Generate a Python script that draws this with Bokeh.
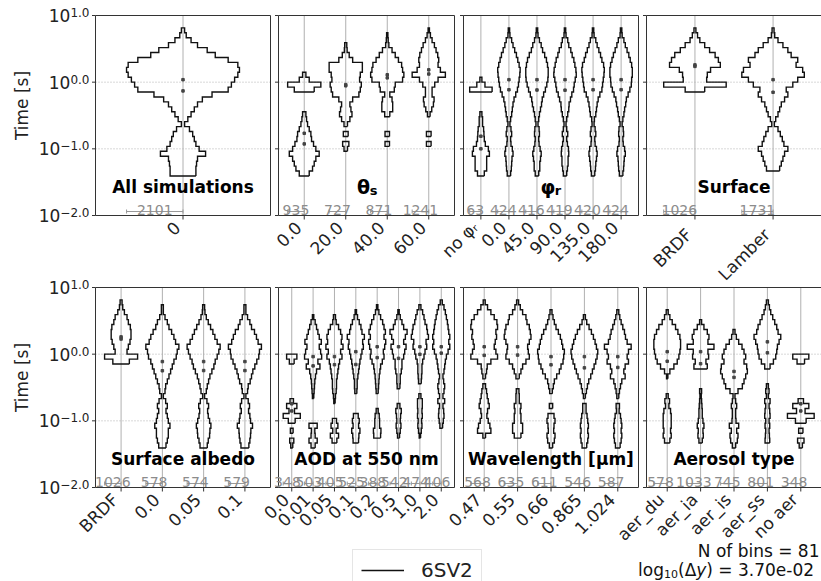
import numpy as np
from bokeh.plotting import figure
from bokeh.models import Range1d, Legend, LegendItem
from bokeh.embed import file_html
from bokeh.resources import INLINE
from bokeh.core.properties import value

# ------------------------------------------------------------------ data
N_BINS = 81
LOG_DY = 3.0 / N_BINS          # 3.70e-02 in log10(seconds)
STEP_BINS = 2                  # drawn step = 2 histogram bins
LOG_MIN = -2.0
series_name = "6SV2"

# each profile: (index of first step above 10^-2, relative counts per step)
all_labels = ["0"]
all_counts = [2101]
all_profiles = [
    (8, [40, 40, 42, 45, 70, 50, 40, 35, 30, 20, 5, 15, 25, 35, 45, 60, 90, 140,
         150, 160, 170, 175, 170, 140, 100, 75, 45, 25, 10, 5]),
]

theta_labels = ["0.0", "20.0", "40.0", "60.0"]
theta_counts = [935, 727, 871, 1241]
theta_profiles = [
    (8, [15, 25, 30, 35, 45, 35, 28, 22, 20, 15, 10, 7, 5, 0, 0, 0, 0, 30, 50, 15, 5]),
    (13, [5, 9, 0, 7, 0, 5, 12, 18, 15, 12, 20, 38, 42, 45, 40, 42, 48, 48, 20, 10, 4, 3]),
    (14, [7, 0, 7, 0, 0, 0, 8, 17, 17, 15, 8, 22, 25, 48, 52, 48, 45, 35, 25, 15, 5, 3, 2]),
    (14, [7, 0, 7, 0, 0, 0, 4, 9, 14, 16, 10, 10, 18, 28, 50, 35, 28, 30, 27, 22, 17, 10, 5, 2]),
]

phi_labels = ["no φᵣ", "0.0", "45.0", "90.0", "135.0", "180.0"]
phi_counts = [63, 424, 416, 419, 420, 424]
phi_profiles = [
    (8, [10, 17, 17, 17, 25, 22, 13, 10, 9, 8, 5, 5, 3, 0, 0, 0, 0, 33, 12, 3]),
    (8, [5, 7, 8, 9, 12, 10, 6, 5, 8, 6, 3, 5, 8, 10, 12, 15, 20, 25, 28, 30, 32, 33, 30, 26, 22, 17, 12, 8, 3, 2]),
    (8, [5, 8, 8, 10, 12, 9, 6, 5, 7, 6, 3, 5, 7, 10, 13, 15, 19, 24, 28, 31, 32, 32, 30, 27, 22, 16, 12, 7, 3, 2]),
    (8, [5, 7, 9, 9, 11, 10, 7, 5, 8, 5, 3, 5, 8, 11, 12, 16, 20, 25, 27, 30, 33, 32, 29, 26, 21, 17, 11, 8, 3, 2]),
    (8, [5, 7, 8, 10, 12, 10, 6, 5, 8, 6, 3, 4, 8, 10, 12, 15, 20, 26, 28, 30, 32, 33, 31, 26, 22, 17, 12, 8, 3, 2]),
    (8, [5, 7, 8, 9, 12, 10, 6, 5, 7, 6, 3, 5, 8, 10, 13, 15, 20, 25, 29, 30, 32, 32, 30, 26, 22, 17, 12, 8, 3, 2]),
]

surf_labels = ["BRDF", "Lamber"]
surf_counts = [1026, 1731]
surf_profiles = [
    (25, [30, 96, 36, 38, 48, 78, 72, 62, 45, 30, 15, 8, 3]),
    (9, [20, 25, 30, 35, 45, 33, 28, 22, 15, 4, 8, 15, 20, 25, 35, 45, 40, 60, 75, 95,
         90, 70, 75, 55, 45, 30, 15, 5, 3]),
]

alb_labels = ["BRDF", "0.0", "0.05", "0.1"]
alb_counts = [1026, 578, 574, 579]
alb_profiles = [
    (25, [25, 50, 18, 22, 27, 30, 30, 28, 22, 18, 10, 5, 3]),
    (8, [11, 15, 18, 18, 23, 18, 15, 11, 15, 10, 3, 8, 10, 15, 20, 25, 30, 35, 42, 45, 50, 40, 35, 28, 20, 15, 8, 3, 3]),
    (8, [11, 14, 18, 19, 22, 18, 14, 12, 15, 10, 3, 8, 11, 15, 19, 25, 31, 35, 41, 46, 50, 41, 34, 28, 21, 14, 8, 4, 3]),
    (8, [12, 15, 17, 18, 23, 17, 15, 11, 14, 10, 3, 8, 10, 16, 20, 24, 30, 36, 42, 44, 50, 40, 35, 29, 20, 15, 8, 3, 3]),
]

no_aerosol_profile = (8, [3, 6, 0, 4, 0, 10, 25, 8, 15, 5, 0, 0, 0, 0, 0, 0, 0, 7, 15])

aod_labels = ["0.0", "0.01", "0.05", "0.1", "0.2", "0.5", "1.0", "2.0"]
aod_counts = [348, 503, 405, 525, 388, 542, 474, 406]
aod_profiles = [
    no_aerosol_profile,
    (8, [6, 12, 6, 5, 12, 0, 0, 0, 0, 0, 2, 3, 4, 5, 7, 10, 20, 14, 25, 22, 18, 24, 18, 14, 10, 6, 2]),
    (9, [7, 12, 5, 10, 6, 0, 0, 0, 2, 3, 5, 6, 6, 8, 10, 12, 15, 22, 18, 25, 20, 22, 18, 12, 5, 3]),
    (9, [8, 9, 12, 8, 10, 7, 0, 0, 0, 0, 3, 4, 4, 6, 8, 10, 12, 15, 18, 22, 20, 25, 18, 15, 10, 5, 2]),
    (10, [10, 11, 7, 7, 6, 3, 0, 0, 0, 3, 4, 5, 6, 8, 10, 15, 20, 18, 22, 25, 20, 24, 20, 16, 10, 5, 2]),
    (10, [3, 5, 7, 5, 6, 8, 4, 0, 0, 0, 4, 5, 5, 8, 10, 10, 15, 18, 22, 15, 20, 25, 15, 10, 5, 2]),
    (10, [2, 4, 6, 5, 7, 6, 7, 7, 3, 0, 0, 4, 5, 6, 6, 8, 12, 15, 20, 18, 25, 22, 20, 15, 12, 8, 3]),
    (12, [4, 6, 8, 7, 5, 10, 5, 8, 10, 7, 5, 8, 10, 12, 15, 20, 25, 22, 25, 22, 20, 18, 15, 12, 8, 3]),
]

wl_labels = ["0.47", "0.55", "0.66", "0.865", "1.024"]
wl_counts = [568, 635, 611, 546, 587]
wl_profiles = [
    (10, [4, 20, 17, 12, 8, 10, 15, 12, 9, 7, 4, 0, 4, 7, 9, 20, 40, 35, 30, 33, 37, 35, 40, 38, 30, 20, 10, 3]),
    (10, [10, 15, 15, 10, 10, 8, 10, 5, 5, 4, 0, 0, 5, 10, 15, 25, 35, 32, 30, 35, 40, 38, 35, 28, 25, 15, 8, 3]),
    (8, [5, 10, 12, 8, 9, 12, 9, 0, 5, 0, 0, 4, 7, 10, 17, 25, 30, 36, 38, 40, 35, 32, 28, 22, 15, 10, 6, 3]),
    (8, [7, 10, 12, 10, 12, 10, 8, 5, 5, 0, 3, 6, 9, 13, 19, 24, 29, 34, 38, 40, 36, 32, 27, 21, 14, 7, 3]),
    (8, [7, 10, 12, 10, 12, 10, 8, 4, 5, 0, 3, 5, 8, 12, 22, 18, 22, 32, 28, 32, 40, 28, 23, 20, 15, 10, 6, 3]),
]

aer_labels = ["aer_du", "aer_ia", "aer_is", "aer_ss", "no aer"]
aer_counts = [578, 1033, 745, 801, 348]
aer_profiles = [
    (9, [8, 12, 10, 12, 12, 12, 10, 5, 7, 3, 0, 0, 0, 2, 8, 20, 30, 35, 38, 40, 40, 38, 32, 25, 15, 8, 3]),
    (9, [5, 8, 7, 10, 7, 5, 5, 4, 3, 2, 3, 0, 0, 0, 0, 20, 16, 24, 22, 40, 22, 25, 20, 10, 3]),
    (8, [5, 10, 12, 8, 14, 6, 5, 5, 8, 5, 3, 12, 25, 30, 35, 40, 38, 30, 35, 30, 24, 14, 7, 3]),
    (9, [7, 6, 5, 7, 5, 8, 7, 5, 8, 3, 5, 3, 0, 0, 0, 8, 18, 25, 28, 30, 35, 40, 32, 28, 22, 16, 10, 6, 3]),
    no_aerosol_profile,
]

# ------------------------------------------------------------------ layout / style
FONT = "DejaVu Sans"
INK = "#111111"
SPINE = "#333333"
GRID = "#b0b0b0"
COUNT_C = "#8c8c8c"
TXT = "#222222"
W, H = 821, 581
PXD = 200.0 / 3.0               # pixels per decade
ROW_TOP = [15, 287]
COL_LEFT = [95, 278, 463, 646]
COL_W = [175, 176, 175, 175]
X0 = -0.62
HALF = 0.4
STEP = LOG_DY * STEP_BINS
DEJAVU_W = {"0": .636, "1": .636, "2": .636, ".": .318, "−": .838}

p = figure(width=W, height=H, x_range=Range1d(0, W), y_range=Range1d(H, 0),
           x_axis_location=None, y_axis_location=None, toolbar_location=None,
           output_backend="svg", min_border=0)
p.grid.visible = False
p.outline_line_color = None
p.background_fill_color = "white"
p.border_fill_color = "white"

for r, T in enumerate(ROW_TOP):
    p.extra_y_ranges["y%d" % r] = Range1d(1 - (H - T) / PXD, 1 + T / PXD)


def violin_lines(center, k0, vals):
    vmax = float(max(vals))
    xs, ys, run = [], [], []
    for i, v in enumerate(list(vals) + [0]):
        if v > 0:
            run.append((k0 + i, HALF * v / vmax))
        elif run:
            px, py = [], []
            for k, w in run:
                px += [center + w, center + w]
                py += [LOG_MIN + STEP * k, LOG_MIN + STEP * (k + 1)]
            for k, w in reversed(run):
                px += [center - w, center - w]
                py += [LOG_MIN + STEP * (k + 1), LOG_MIN + STEP * k]
            px.append(px[0])
            py.append(py[0])
            xs.append(px)
            ys.append(py)
            run = []
    return xs, ys


def stats(k0, vals):
    v = np.array(vals, float)
    c = LOG_MIN + STEP * (k0 + np.arange(len(v)) + 0.5)
    mean = (v * c).sum() / v.sum()
    cum = np.cumsum(v) / v.sum()
    med = c[np.searchsorted(cum, 0.5)]
    return mean, med


violin_renderers = []


def add_panel(r, c, labels, counts, profiles, title_parts, label_pad):
    n = len(labels)
    L, w = COL_LEFT[c], COL_W[c]
    ppu = w / (n + 0.24)
    xname = "x%d%d" % (r, c)
    start = X0 - L / ppu
    p.extra_x_ranges[xname] = Range1d(start, start + W / ppu)
    kw = dict(x_range_name=xname, y_range_name="y%d" % r)
    x1 = X0 + w / ppu
    x1_spine = x1 + (4 / ppu if c == 3 else 0)   # last column runs off the page
    ticks = list(range(n))

    # grid
    p.segment(x0=ticks, x1=ticks, y0=[-2] * n, y1=[1] * n,
              line_color=GRID, line_width=1, **kw)
    p.segment(x0=[X0, X0], x1=[x1, x1], y0=[-1, 0], y1=[-1, 0],
              line_color=GRID, line_width=1, line_dash="1 2", **kw)
    # spines and ticks
    p.quad(left=[X0], right=[x1_spine], bottom=[-2], top=[1], fill_color=None,
           line_color=SPINE, line_width=1, **kw)
    p.segment(x0=ticks, x1=ticks, y0=[-2] * n, y1=[-2 - 4 / PXD] * n,
              line_color=SPINE, line_width=1, **kw)
    dec = [-2, -1, 0, 1]
    p.segment(x0=[X0] * 4, x1=[X0 - 3.5 / ppu] * 4, y0=dec, y1=dec,
              line_color=SPINE, line_width=1, **kw)

    # violins
    vx, vy, mx, my = [], [], [], []
    for i, (k0, vals) in enumerate(profiles):
        xs, ys = violin_lines(i, k0, vals)
        vx += xs
        vy += ys
        m1, m2 = stats(k0, vals)
        mx += [i, i]
        my += [m1, m2]
    vr = p.multi_line(vx, vy, line_color=INK, line_width=1.4, line_join="miter", **kw)
    violin_renderers.append(vr)
    p.scatter(mx, my, marker="square", size=2.5, color="#444444", **kw)

    # counts sitting on small scale bars
    yb = -1.94
    p.segment(x0=[i - HALF for i in ticks], y0=[yb] * n, x1=ticks, y1=[yb] * n,
              line_color="#999999", line_width=1, **kw)
    capx = [i - HALF for i in ticks] + ticks
    p.segment(x0=capx, x1=capx, y0=[yb - 0.03] * (2 * n), y1=[yb + 0.03] * (2 * n),
              line_color="#999999", line_width=1, **kw)
    p.text(x=[i - HALF / 2 for i in ticks], y=[-1.922] * n,
           text=[str(v) for v in counts], text_align="center",
           text_baseline="alphabetic", text_font_size="14px",
           text_color=COUNT_C, text_font=value(FONT), **kw)

    # rotated category labels
    p.text(x=ticks, y=[-2] * n, text=labels, angle=np.pi / 4,
           text_align="right", text_baseline="middle", x_offset=-6,
           y_offset=label_pad + 4, text_font_size="17px", text_color=TXT,
           text_font=value(FONT), **kw)

    # panel title
    xc = (X0 + x1) / 2.0
    for t, size, dx, dlog in title_parts:
        p.text(x=[xc], y=[-1.565 + dlog], text=[t], x_offset=dx,
               text_align="center", text_baseline="middle",
               text_font_size=size, text_font_style="bold",
               text_color="black", text_font=value(FONT), **kw)

    if c == 0:
        for e in [1.0, 0.0, -1.0, -2.0]:
            sup = ("−" if e < 0 else "") + "%.1f" % abs(e)
            sw = sum(DEJAVU_W[ch] for ch in sup) * 12
            p.text(x=[X0], y=[e], text=["10"], x_offset=-(6 + sw),
                   text_align="right", text_baseline="middle",
                   text_font_size="17px", text_color=TXT,
                   text_font=value(FONT), **kw)
            p.text(x=[X0], y=[e + 0.045], text=[sup], x_offset=-6,
                   text_align="right", text_baseline="middle",
                   text_font_size="12px", text_color=TXT,
                   text_font=value(FONT), **kw)
        p.text(x=[X0], y=[-0.35], text=["Time [s]"], x_offset=-74, angle=np.pi / 2,
               text_align="center", text_baseline="middle",
               text_font_size="17px", text_color=TXT, text_font=value(FONT), **kw)


add_panel(0, 0, all_labels, all_counts, all_profiles, [("All simulations", "17px", 0, 0)], 5)
add_panel(0, 1, theta_labels, theta_counts, theta_profiles,
          [("θ", "19px", -3, 0), ("s", "13px", 7, -0.06)], 5)
add_panel(0, 2, phi_labels, phi_counts, phi_profiles,
          [("φ", "19px", -3, 0), ("r", "13px", 7, -0.06)], 5)
add_panel(0, 3, surf_labels, surf_counts, surf_profiles, [("Surface", "17px", 0, 0)], 12)
add_panel(1, 0, alb_labels, alb_counts, alb_profiles, [("Surface albedo", "17px", 0, 0)], 5)
add_panel(1, 1, aod_labels, aod_counts, aod_profiles, [("AOD at 550 nm", "17px", 0, 0)], 5)
add_panel(1, 2, wl_labels, wl_counts, wl_profiles, [("Wavelength [μm]", "17px", 0, 0)], 5)
add_panel(1, 3, aer_labels, aer_counts, aer_profiles, [("Aerosol type", "17px", 0, 0)], 5)

# footnotes (right aligned so that they stay inside the page)
RIGHT = 819
p.text(x=[RIGHT], y=[550], text=["N of bins = %d" % N_BINS], text_align="right",
       text_baseline="middle", text_font_size="17px", text_color=INK,
       text_font=value(FONT))
WID = {"y": .592, "(": .390, "Δ": .684, "l": .278, "o": .612, "g": .635,
       ")": .390, " ": .318, "=": .838, "3": .636, ".": .318, "7": .636,
       "0": .636, "e": .615, "-": .361, "2": .636, "1": .636}
pieces = [(") =  %.2e" % LOG_DY, 17, 0, "normal"), ("y", 17, 0, "italic"),
          ("(Δ", 17, 0, "normal"), ("10", 11, 4, "normal"), ("log", 17, 0, "normal")]
xr = RIGHT
for t, size, dy, style in pieces:
    p.text(x=[xr], y=[569 + dy], text=[t], text_align="right",
           text_baseline="middle", text_font_size="%dpx" % size,
           text_font_style=style, text_color=INK, text_font=value(FONT))
    xr -= sum(WID.get(ch, .6) for ch in t) * size

legend = Legend(items=[LegendItem(label=series_name, renderers=[violin_renderers[0]])],
                location=(352, -10), label_text_font_size="20px", label_text_font=FONT,
                label_text_color=TXT, glyph_width=43, glyph_height=22,
                label_height=22, label_standoff=17, padding=8, spacing=0,
                border_line_color="#cccccc", border_line_width=1,
                background_fill_color="white", background_fill_alpha=0.8)
p.add_layout(legend)

open("out.html", "w").write(file_html(p, INLINE))
